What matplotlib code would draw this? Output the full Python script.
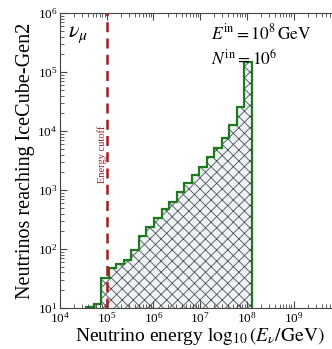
import numpy as np
import matplotlib
matplotlib.use('Agg')
import matplotlib.pyplot as plt

plt.rcParams['font.family'] = 'Liberation Serif'
plt.rcParams['mathtext.fontset'] = 'stix'
plt.rcParams['hatch.linewidth'] = 0.6

# histogram data (log10 bin edges, counts per bin)
log_edges = np.linspace(4.557, 8.11, 23)
counts = [10.5, 11.7, 32.7, 47.7, 55.8, 65, 96, 166, 235, 335, 470,
          630, 930, 1320, 1790, 2450, 3620, 5150, 7540, 12600, 26000, 150000]
cutoff = 1e5
xlims = [1e4, 1e10]
ylims = [1e1, 1e6]

edges = 10**log_edges

fig = plt.figure(figsize=(3.32, 3.49), dpi=100)
# axes run past the right edge of the figure, as in the reference crop
ax = fig.add_axes([0.181, 0.1175, 0.844, 0.845])

ax.stairs(counts, edges, baseline=1, fill=True, facecolor='#eef3f7',
          edgecolor='#505050', hatch='xxx', linewidth=0)
ax.stairs(counts, edges, baseline=1, fill=False, color='#1e7a1e', linewidth=1.6)

ax.axvline(cutoff, color='#a51d1d', linestyle=(0, (4, 2.5)), linewidth=1.8)
ax.text(0.8e5, 4e3, 'Energy cutoff', rotation=90, color='#a51d1d',
        fontsize=7.5, ha='center', va='center')

ax.set_xscale('log')
ax.set_yscale('log')
ax.set_xlim(xlims)
ax.set_ylim(ylims)

ax.tick_params(which='both', direction='in', top=True, right=True,
               labelsize=9.5, color='#444444', pad=2)
ax.tick_params(which='major', length=5)
ax.tick_params(which='minor', length=3)
ax.xaxis.set_major_locator(matplotlib.ticker.FixedLocator([1e4, 1e5, 1e6, 1e7, 1e8, 1e9]))
ax.xaxis.set_minor_locator(matplotlib.ticker.LogLocator(base=10, subs=np.arange(2, 10), numticks=20))
ax.yaxis.set_minor_locator(matplotlib.ticker.LogLocator(base=10, subs=np.arange(2, 10), numticks=20))
for s in ax.spines.values():
    s.set_color('#444444')

ax.text(0.03, 0.96, r'$\nu_\mu$', transform=ax.transAxes, fontsize=16,
        ha='left', va='top')
ax.text(0.54, 0.965, r'$E^{\rm in} = 10^8\,\mathrm{GeV}$', transform=ax.transAxes,
        fontsize=12.5, ha='left', va='top')
ax.text(0.54, 0.88, r'$N^{\rm in} = 10^6$', transform=ax.transAxes,
        fontsize=12.5, ha='left', va='top')

ax.set_xlabel(r'Neutrino energy $\log_{10}(E_\nu/\mathrm{GeV})$', fontsize=14, labelpad=0)
ax.set_ylabel('Neutrinos reaching IceCube-Gen2', fontsize=14.5, labelpad=2)

fig.savefig('out.png', dpi=100)
